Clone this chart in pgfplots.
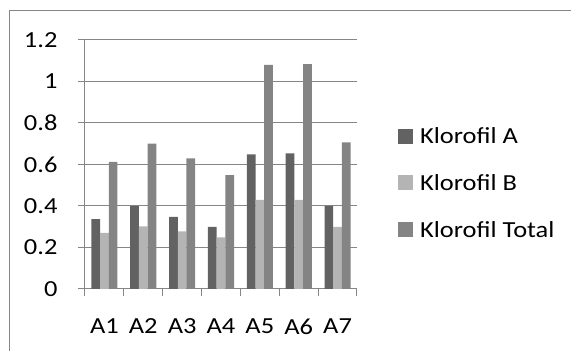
\documentclass[border=0pt]{standalone}
\usepackage{pgfplots}
\pgfplotsset{compat=1.18}
\usepackage{fontspec}
\setmainfont{Carlito}[FakeStretch=1.15]
\definecolor{cA}{RGB}{98,98,98}
\definecolor{cB}{RGB}{180,180,180}
\definecolor{cT}{RGB}{132,132,132}
\definecolor{gridc}{RGB}{134,134,134}
\begin{document}
\begin{tikzpicture}[x=1pt,y=1pt]
\useasboundingbox (0,0) rectangle (571,351);
\draw[gridc, line width=1pt] (9.5,-20) -- (9.5,340.5) -- (600,340.5);
\begin{axis}[
  at={(85pt,62pt)}, anchor=south west,
  scale only axis, width=272pt, height=249pt,
  xmin=-0.5, xmax=6.5, ymin=0, ymax=1.2,
  ybar=0pt, bar width=8.7pt,
  ytick={0,0.2,0.4,0.6,0.8,1,1.2},
  yticklabels={0,0.2,0.4,0.6,0.8,1,1.2},
  yticklabel style={xshift=-17pt},
  xtick={-0.5,0.5,1.5,2.5,3.5,4.5,5.5,6.5},
  xticklabels={},
  extra x ticks={0,1,2,3,4,5,6},
  extra x tick labels={A1,A2,A3,A4,A5,A6,A7},
  extra x tick style={major tick length=0pt, grid=none,
     xticklabel style={yshift=-26pt}},
  tick align=outside, major tick length=7pt,
  axis x line*=bottom, axis y line*=left,
  axis line style={gridc, line width=1pt},
  tick style={gridc, line width=1pt},
  ymajorgrids, xmajorgrids=false,
  grid style={gridc, line width=1pt},
  tick label style={font=\fontsize{23}{27}\selectfont, text=black},
  legend style={font=\fontsize{23}{27}\selectfont, draw=none, fill=none,
    at={(1.1507,0.4257)}, anchor=west, inner sep=0pt,
    row sep=25.5pt, /tikz/column sep=5pt, legend cell align=left},
  legend image code/.code={\fill[#1] (0pt,-7.5pt) rectangle (15pt,7.5pt);},
]
\addplot[fill=cA, draw=none] coordinates {(0,0.337) (1,0.400) (2,0.347) (3,0.299) (4,0.649) (5,0.654) (6,0.400)};
\addplot[fill=cB, draw=none] coordinates {(0,0.270) (1,0.302) (2,0.278) (3,0.249) (4,0.429) (5,0.429) (6,0.299)};
\addplot[fill=cT, draw=none] coordinates {(0,0.613) (1,0.700) (2,0.630) (3,0.549) (4,1.080) (5,1.084) (6,0.707)};
\legend{Klorofil A, Klorofil B, Klorofil Total}
\end{axis}
\end{tikzpicture}
\end{document}
